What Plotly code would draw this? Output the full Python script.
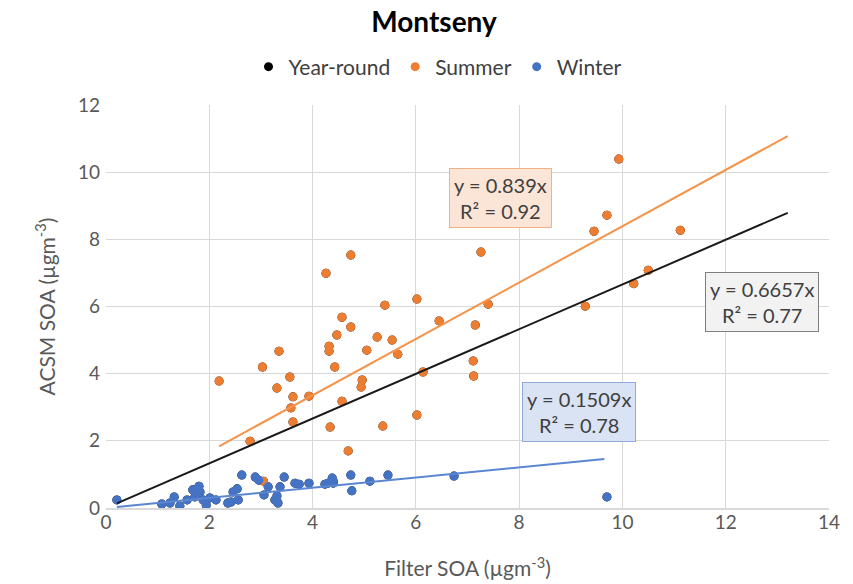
import plotly.graph_objects as go

# Summer samples: filter SOA vs ACSM SOA (µg m-3)
summer_x = [2.19, 2.79, 3.03, 3.35, 3.31, 3.56, 3.62, 3.58, 3.62, 3.93, 4.34, 4.74, 4.26,
            5.40, 6.02, 4.57, 4.74, 4.47, 4.32, 4.32, 5.25, 5.54, 5.05, 5.65, 4.43, 4.96,
            4.94, 6.14, 6.45, 4.57, 5.36, 6.02, 4.69, 9.93, 9.70, 9.45, 11.12, 7.26, 7.40,
            7.15, 7.11, 7.12, 9.28, 10.22, 10.50, 3.05]
summer_y = [3.78, 1.99, 4.20, 4.67, 3.57, 3.90, 3.31, 2.98, 2.56, 3.33, 2.41, 7.53, 6.99,
            6.04, 6.22, 5.68, 5.39, 5.15, 4.82, 4.67, 5.09, 5.00, 4.70, 4.58, 4.20, 3.81,
            3.60, 4.05, 5.57, 3.18, 2.44, 2.77, 1.70, 10.39, 8.72, 8.24, 8.27, 7.62, 6.07,
            5.45, 4.38, 3.93, 6.01, 6.68, 7.08, 0.80]

# Winter samples
winter_x = [0.21, 1.08, 1.24, 1.32, 1.43, 1.57, 1.68, 1.80, 1.72, 1.82, 1.88, 1.94, 2.01,
            2.13, 2.36, 2.42, 2.46, 2.54, 2.56, 2.63, 2.89, 2.96, 3.06, 3.14, 3.27, 3.33,
            3.31, 3.37, 3.45, 3.66, 3.74, 3.93, 4.24, 4.30, 4.38, 4.40, 4.40, 4.74, 4.76,
            5.11, 5.46, 6.74, 9.70]
winter_y = [0.24, 0.12, 0.15, 0.33, 0.06, 0.24, 0.54, 0.65, 0.33, 0.48, 0.24, 0.09, 0.30,
            0.24, 0.15, 0.18, 0.48, 0.57, 0.24, 0.98, 0.92, 0.83, 0.39, 0.63, 0.24, 0.15,
            0.36, 0.63, 0.92, 0.74, 0.71, 0.74, 0.71, 0.74, 0.89, 0.74, 0.80, 0.98, 0.51,
            0.80, 0.98, 0.95, 0.33]

# Zero-intercept fits: slope, R², and x extent of each drawn trendline
slopes = {"Year-round": 0.6657, "Summer": 0.839, "Winter": 0.1509}
r2 = {"Year-round": 0.77, "Summer": 0.92, "Winter": 0.78}
trend_range = {"Year-round": [0.21, 13.2], "Summer": [2.19, 13.2], "Winter": [0.21, 9.65]}

x_ticks = [0, 2, 4, 6, 8, 10, 12, 14]
y_ticks = [0, 2, 4, 6, 8, 10, 12]

colors = {"Year-round": "#000000", "Summer": "#ED7D31", "Winter": "#4472C4"}
line_colors = {"Year-round": "#1a1a1a", "Summer": "#F4934A", "Winter": "#5B86D0"}

FONT = "Lato, 'Open Sans', sans-serif"

fig = go.Figure()

all_x = summer_x + winter_x
all_y = summer_y + winter_y
points = {"Year-round": (all_x, all_y), "Summer": (summer_x, summer_y),
          "Winter": (winter_x, winter_y)}

for name, (xs, ys) in points.items():
    fig.add_trace(go.Scatter(
        x=xs, y=ys, mode="markers", name=name,
        marker=dict(color=colors[name], size=9, line=dict(width=0)),
        showlegend=True,
    ))

for name in ["Year-round", "Summer", "Winter"]:
    x0, x1 = trend_range[name]
    fig.add_trace(go.Scatter(
        x=[x0, x1], y=[slopes[name] * x0, slopes[name] * x1],
        mode="lines", line=dict(color=line_colors[name], width=2),
        showlegend=False, hoverinfo="skip",
    ))

# Equation boxes
boxes = [
    ("Summer", 7.63, 9.23, "#FBE5D6", "#F4B183"),
    ("Year-round", 12.70, 6.13, "#F2F2F2", "#7F7F7F"),
    ("Winter", 9.16, 2.86, "#DAE3F3", "#8FAADC"),
]
for name, ax, ay, bg, border in boxes:
    fig.add_annotation(
        x=ax, y=ay, xref="x", yref="y", showarrow=False,
        text=f"y = {slopes[name]}x<br>R² = {r2[name]:.2f}",
        font=dict(family=FONT, size=20, color="#404040"),
        bgcolor=bg, bordercolor=border, borderwidth=1, borderpad=4,
        align="center",
    )

fig.update_layout(
    width=853, height=584,
    margin=dict(l=106, r=24, t=105, b=76),
    paper_bgcolor="white", plot_bgcolor="white",
    font=dict(family=FONT, color="#595959"),
    title=dict(text="<b>Montseny</b>", x=434 / 853, xref="container", xanchor="center",
               y=1 - 22 / 584, yref="container", yanchor="middle",
               font=dict(family=FONT, size=28, color="#000000")),
    legend=dict(orientation="h", x=438 / 853, xref="container", xanchor="center",
                y=1 - 67 / 584, yref="container", yanchor="middle",
                font=dict(family=FONT, size=21, color="#404040"),
                itemsizing="trace", itemwidth=30, tracegroupgap=0),
    xaxis=dict(range=[0, 14], tickvals=x_ticks, ticktext=[str(v) for v in x_ticks],
               showgrid=True, gridcolor="#D9D9D9", gridwidth=1, zeroline=False,
               showline=True, linecolor="#D9D9D9", linewidth=2, automargin=False,
               tickfont=dict(size=19, color="#595959"), ticks="", ticklabelstandoff=-4,
               title=dict(text="Filter SOA (µgm<sup>-3</sup>)", standoff=30,
                          font=dict(size=21, color="#595959"))),
    yaxis=dict(range=[0, 12], tickvals=y_ticks, ticktext=[str(v) for v in y_ticks],
               showgrid=True, gridcolor="#D9D9D9", gridwidth=1, zeroline=False,
               showline=False, ticks="", automargin=False, ticklabelstandoff=5,
               tickfont=dict(size=19, color="#595959"),
               title=dict(text="ACSM SOA (µgm<sup>-3</sup>)", standoff=16,
                          font=dict(size=21, color="#595959"))),
)

fig.write_html("out.html")
